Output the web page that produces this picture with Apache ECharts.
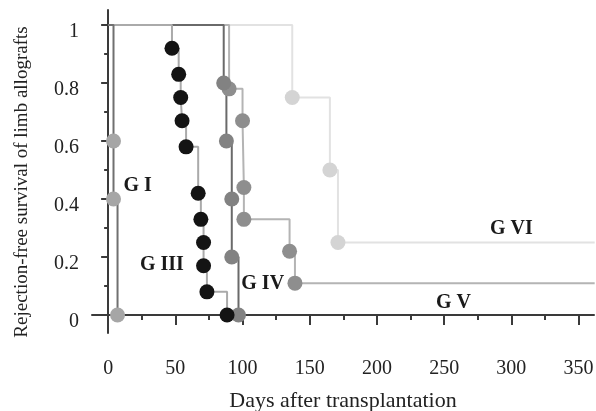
<!DOCTYPE html>
<html>
<head>
<meta charset="utf-8">
<script src="https://cdn.jsdelivr.net/npm/echarts@6/dist/echarts.min.js"></script>
<style>
  html, body { margin: 0; padding: 0; background: #fff; }
  #chart { width: 596px; height: 411px; }
</style>
</head>
<body>
<div id="chart"></div>
<script>
// days after transplantation / rejection-free survival
var g1Days = [0, 4, 4, 7];
var g1Surv = [1, 0.6, 0.4, 0];

var g3Days = [0, 47.5, 52.5, 54, 55, 58, 67, 69, 71, 71, 73.5, 88.5];
var g3Surv = [1, 0.92, 0.83, 0.75, 0.67, 0.58, 0.42, 0.33, 0.25, 0.17, 0.08, 0];

var g4Days = [0, 86, 88, 92, 92, 97];
var g4Surv = [1, 0.8, 0.6, 0.4, 0.2, 0];

var g5Days = [0, 90, 100, 101, 101, 135, 139, 362];
var g5Surv = [1, 0.78, 0.67, 0.44, 0.33, 0.22, 0.11, 0.11];

var g6Days = [0, 137, 165, 171, 362];
var g6Surv = [1, 0.75, 0.5, 0.25, 0.25];

var groupNames = ['G I', 'G III', 'G IV', 'G V', 'G VI'];
var xTicks = [0, 50, 100, 150, 200, 250, 300, 350];
var xMinor = [25, 75, 125, 175, 225, 275, 325];
var yTicks = [0, 0.2, 0.4, 0.6, 0.8, 1];
var yMinor = [0.1, 0.3, 0.5, 0.7, 0.9];

var chart = echarts.init(document.getElementById('chart'));

// first point (start at 1) and censored tail get no marker
function steps(days, surv, tailCensored) {
  var out = [];
  for (var i = 0; i < days.length; i++) {
    var item = { value: [days[i], surv[i]] };
    if (i === 0 || (tailCensored && i === days.length - 1)) item.symbol = 'none';
    out.push(item);
  }
  return out;
}

function group(name, data, lineColor, dotColor, lab) {
  return {
    name: name,
    type: 'line',
    step: 'end',
    data: data,
    symbol: 'circle',
    symbolSize: 15,
    showAllSymbol: true,
    lineStyle: { color: lineColor, width: 2 },
    itemStyle: { color: dotColor },
    markPoint: {
      symbol: 'circle',
      symbolSize: 1,
      itemStyle: { color: 'rgba(0,0,0,0)' },
      label: {
        show: true,
        position: 'inside',
        formatter: name,
        fontFamily: 'Liberation Serif',
        fontWeight: 'bold',
        fontSize: 20,
        color: '#1a1a1a'
      },
      data: [{ coord: lab }]
    }
  };
}

var font = 'Liberation Serif';
var axisCol = '#3a3a3a';

option = {
  animation: false,
  grid: { left: 92, right: 2, top: 10, bottom: 78, outerBoundsMode: 'none' },
  xAxis: [
    {
      type: 'value',
      min: -12,
      max: 361.5,
      name: 'Days after transplantation',
      nameLocation: 'middle',
      nameGap: 57,
      nameTextStyle: { fontFamily: font, fontSize: 22, color: '#222' },
      axisLine: { lineStyle: { color: axisCol, width: 2 } },
      axisTick: { customValues: xTicks, length: 10, lineStyle: { color: axisCol, width: 2 } },
      axisLabel: { customValues: xTicks, margin: 26, fontFamily: font, fontSize: 20, color: '#222' },
      splitLine: { show: false }
    },
    {
      type: 'value',
      min: -12,
      max: 361.5,
      position: 'bottom',
      offset: 0,
      axisLine: { show: false },
      axisTick: { customValues: xMinor, length: 5, lineStyle: { color: axisCol, width: 2 } },
      axisLabel: { show: false },
      splitLine: { show: false }
    }
  ],
  yAxis: [
    {
      type: 'value',
      min: -0.062,
      max: 1.052,
      axisLine: { show: true, lineStyle: { color: axisCol, width: 2 } },
      axisTick: { show: true, customValues: yTicks, length: 7, lineStyle: { color: axisCol, width: 2 } },
      axisLabel: { customValues: yTicks, margin: 13, verticalAlign: 'top', lineHeight: 13, fontFamily: font, fontSize: 20, color: '#222' },
      splitLine: { show: false }
    },
    {
      type: 'value',
      min: -0.062,
      max: 1.052,
      position: 'left',
      offset: 0,
      axisLine: { show: false },
      axisTick: { show: true, customValues: yMinor, length: 4, lineStyle: { color: axisCol, width: 2 } },
      axisLabel: { show: false },
      splitLine: { show: false }
    }
  ],
  graphic: [
    {
      type: 'text',
      x: 22,
      y: 182,
      rotation: Math.PI / 2,
      style: {
        text: 'Rejection-free survival of limb allografts',
        x: 0,
        y: 0,
        align: 'center',
        verticalAlign: 'middle',
        font: '19px "Liberation Serif"',
        fill: '#222'
      }
    }
  ],
  series: [
    group(groupNames[4], steps(g6Days, g6Surv, true), '#e2e2e2', '#d4d4d4', [300, 0.298]),
    group(groupNames[3], steps(g5Days, g5Surv, true), '#b4b4b4', '#8e8e8e', [257, 0.042]),
    group(groupNames[2], steps(g4Days, g4Surv, false), '#6a6a6a', '#828282', [115, 0.107]),
    group(groupNames[1], steps(g3Days, g3Surv, false), '#aaaaaa', '#141414', [40, 0.172]),
    group(groupNames[0], steps(g1Days, g1Surv, false), '#707070', '#a6a6a6', [22, 0.447])
  ]
};

option && chart.setOption(option);
</script>
</body>
</html>
